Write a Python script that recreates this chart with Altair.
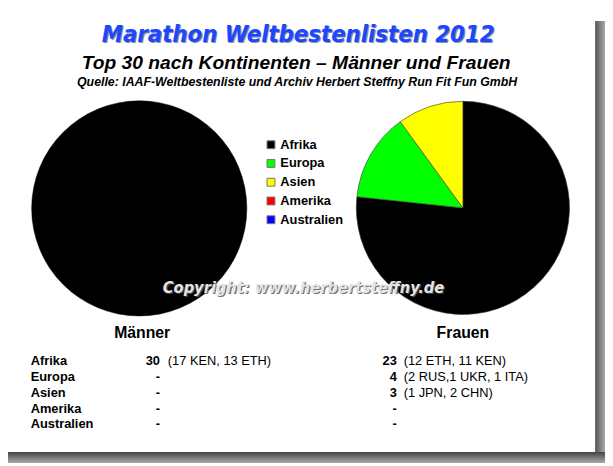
import altair as alt
import pandas as pd

continents = ["Afrika", "Europa", "Asien", "Amerika", "Australien"]
colors = ["#000000", "#00ff00", "#ffff00", "#ff0000", "#0000ff"]
maenner = [30, 0, 0, 0, 0]
frauen = [23, 4, 3, 0, 0]
maenner_detail = ["(17 KEN, 13 ETH)", "", "", "", ""]
frauen_detail = ["(12 ETH, 11 KEN)", "(2 RUS,1 UKR, 1 ITA)", "(1 JPN, 2 CHN)", "", ""]

title = "Marathon Weltbestenlisten 2012"
subtitle = "Top 30 nach Kontinenten \u2013 M\u00e4nner und Frauen"
source = "Quelle: IAAF-Weltbestenliste und Archiv Herbert Steffny Run Fit Fun GmbH"
copyright_text = "Copyright: www.herbertsteffny.de"
col_heads = ["M\u00e4nner", "Frauen"]

df = pd.DataFrame({
    "continent": continents,
    "idx": list(range(len(continents))),
    "maenner": maenner,
    "frauen": frauen,
    "m_label": [str(v) if v > 0 else "-" for v in maenner],
    "f_label": [str(v) if v > 0 else "-" for v in frauen],
    "m_detail": maenner_detail,
    "f_detail": frauen_detail,
})

W, H = 605, 458
NARROW = "DejaVu Sans Condensed, Liberation Sans Narrow, DejaVu Sans, sans-serif"
SANS = "Liberation Sans, Arial, sans-serif"

color_scale = alt.Scale(domain=continents, range=colors)
legend = alt.Legend(
    title=None, orient="none", legendX=260, legendY=129, padding=0,
    symbolType="square", symbolSize=64, symbolStrokeColor="#777777",
    symbolStrokeWidth=1, labelFont=SANS, labelFontWeight="bold",
    labelFontSize=13, labelColor="#000000", labelOffset=3, rowPadding=5,
    labelLimit=200,
)

base = alt.Chart(df)

pie_m = base.transform_filter("datum.maenner > 0").mark_arc(
    radius=109, stroke="#000000", strokeWidth=0.5
).encode(
    theta=alt.Theta("maenner:Q", stack=True),
    color=alt.Color("continent:N", scale=color_scale, legend=legend),
    order=alt.Order("idx:Q"),
    x=alt.value(133), y=alt.value(200),
)

pie_f = base.transform_filter("datum.frauen > 0").mark_arc(
    radius=108, stroke="#333333", strokeWidth=0.6
).encode(
    theta=alt.Theta("frauen:Q", stack=True),
    color=alt.Color("continent:N", scale=color_scale, legend=legend),
    order=alt.Order("idx:Q"),
    x=alt.value(461), y=alt.value(199.5),
)

# card shadow
shadow_right = alt.Chart(df.head(1)).mark_rect(
    color=alt.Gradient(gradient="linear", x1=0, x2=1, y1=0, y2=0,
                       stops=[alt.GradientStop(color="#555555", offset=0),
                              alt.GradientStop(color="#aaaaaa", offset=1)])
).encode(x=alt.value(595), x2=alt.value(W), y=alt.value(10), y2=alt.value(H))

shadow_bottom = alt.Chart(df.head(1)).mark_rect(
    color=alt.Gradient(gradient="linear", x1=0, x2=0, y1=0, y2=1,
                       stops=[alt.GradientStop(color="#444444", offset=0),
                              alt.GradientStop(color="#aaaaaa", offset=1)])
).encode(x=alt.value(0), x2=alt.value(W), y=alt.value(447), y2=alt.value(H))

def text_layer(txt, x, y, size, font=SANS, weight="bold", style="normal",
               color="#000000", align="center", baseline="alphabetic", opacity=1.0):
    return alt.Chart(pd.DataFrame({"t": [txt]})).mark_text(
        font=font, fontSize=size, fontWeight=weight, fontStyle=style,
        color=color, align=align, baseline=baseline, opacity=opacity,
    ).encode(text="t:N", x=alt.value(x), y=alt.value(y))

title_shadow = text_layer(title, 295.2, 32.2, 24, font=NARROW, style="italic",
                          color="#8890a8")
title_main = text_layer(title, 294, 31, 24, font=NARROW, style="italic",
                        color="#1e46ff")
sub = text_layer(subtitle, 292, 59, 19.5, style="italic")
src = text_layer(source, 293, 76, 12.5, style="italic")

copy_shadow = text_layer(copyright_text, 300.8, 287.2, 16.5, font=NARROW,
                         style="italic", color="#555555", opacity=0.8)
copy_main = text_layer(copyright_text, 299.5, 286, 16.5, font=NARROW,
                       style="italic", color="#e4e4e4")

head_m = text_layer(col_heads[0], 136, 326, 16, baseline="middle")
head_f = text_layer(col_heads[1], 461, 326, 16, baseline="middle")

yrow = alt.Y("idx:Q", scale=alt.Scale(domain=[0, 4], range=[355, 419]), axis=None)

row_labels = base.mark_text(font=SANS, fontSize=13, fontWeight="bold",
                            align="left", baseline="middle").encode(
    text="continent:N", x=alt.value(23), y=yrow)
m_counts = base.mark_text(font=SANS, fontSize=13, fontWeight="bold",
                          align="right", baseline="middle").encode(
    text="m_label:N", x=alt.value(154), y=yrow)
m_det = base.mark_text(font=SANS, fontSize=13, align="left",
                       baseline="middle").encode(
    text="m_detail:N", x=alt.value(162), y=yrow)
f_counts = base.mark_text(font=SANS, fontSize=13, fontWeight="bold",
                          align="right", baseline="middle").encode(
    text="f_label:N", x=alt.value(394), y=yrow)
f_det = base.mark_text(font=SANS, fontSize=13, align="left",
                       baseline="middle").encode(
    text="f_detail:N", x=alt.value(401), y=yrow)

chart = alt.layer(
    shadow_right, shadow_bottom,
    pie_m, pie_f,
    title_shadow, title_main, sub, src,
    copy_shadow, copy_main,
    head_m, head_f,
    row_labels, m_counts, m_det, f_counts, f_det,
).properties(
    width=W, height=H, padding=0, autosize="none", background="white"
).configure_view(stroke=None)

chart.save("out.html", embed_options={"renderer": "svg", "actions": False})
